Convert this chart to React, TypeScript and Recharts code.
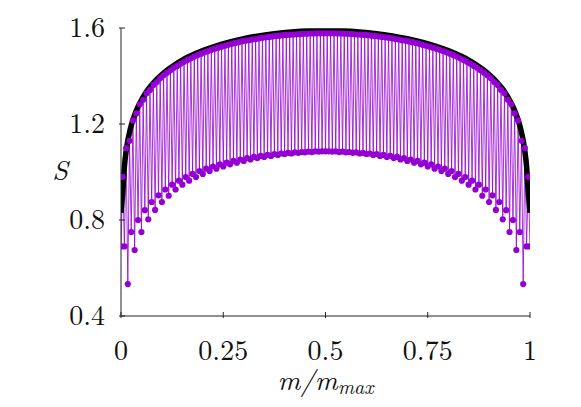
import React from 'react';
import { LineChart, Line, XAxis, YAxis } from 'recharts';

// m runs 0..M_MAX; x = m / M_MAX
const M_MAX = 240;
const xTicks = [0, 0.25, 0.5, 0.75, 1];
const yTicks = [0.4, 0.8, 1.2, 1.6];

// S at odd m (1,3,...,239) — upper branch
const upperS = [
  0.98, 1.10, 1.13, 1.215, 1.244, 1.282, 1.301, 1.328, 1.342, 1.363,
  1.375, 1.391, 1.403, 1.414, 1.424, 1.434, 1.442, 1.451, 1.459, 1.467,
  1.474, 1.481, 1.487, 1.493, 1.499, 1.504, 1.509, 1.514, 1.518, 1.522,
  1.526, 1.530, 1.534, 1.538, 1.541, 1.544, 1.547, 1.549, 1.552, 1.554,
  1.557, 1.559, 1.561, 1.563, 1.565, 1.567, 1.568, 1.570, 1.571, 1.572,
  1.573, 1.574, 1.575, 1.576, 1.576, 1.577, 1.577, 1.578, 1.578, 1.578,
  1.578, 1.578, 1.578, 1.577, 1.577, 1.576, 1.576, 1.575, 1.574, 1.573,
  1.572, 1.571, 1.570, 1.568, 1.567, 1.565, 1.563, 1.561, 1.559, 1.557,
  1.554, 1.552, 1.549, 1.547, 1.544, 1.541, 1.538, 1.534, 1.530, 1.526,
  1.522, 1.518, 1.514, 1.509, 1.504, 1.499, 1.493, 1.487, 1.481, 1.474,
  1.467, 1.459, 1.451, 1.442, 1.434, 1.424, 1.414, 1.403, 1.391, 1.375,
  1.363, 1.342, 1.328, 1.301, 1.282, 1.244, 1.215, 1.13, 1.10, 0.98,
];

// S at even m (0,2,...,240) — lower branch
const lowerS = [
  0.69, 0.69, 0.533, 0.75, 0.675, 0.80, 0.75, 0.841, 0.803, 0.875,
  0.842, 0.903, 0.875, 0.927, 0.901, 0.947, 0.927, 0.964, 0.947, 0.979,
  0.964, 0.992, 0.979, 1.004, 0.992, 1.014, 1.004, 1.023, 1.014, 1.032,
  1.023, 1.039, 1.032, 1.046, 1.039, 1.052, 1.046, 1.058, 1.052, 1.063,
  1.058, 1.067, 1.063, 1.071, 1.067, 1.075, 1.071, 1.077, 1.075, 1.080,
  1.077, 1.082, 1.080, 1.083, 1.082, 1.085, 1.083, 1.086, 1.085, 1.086,
  1.086,
  1.086, 1.085, 1.086, 1.083, 1.085, 1.082, 1.083, 1.080, 1.082, 1.077,
  1.080, 1.075, 1.077, 1.071, 1.075, 1.067, 1.071, 1.063, 1.067, 1.058,
  1.063, 1.052, 1.058, 1.046, 1.052, 1.039, 1.046, 1.032, 1.039, 1.023,
  1.032, 1.014, 1.023, 1.004, 1.014, 0.992, 1.004, 0.979, 0.992, 0.964,
  0.979, 0.947, 0.964, 0.927, 0.947, 0.901, 0.927, 0.875, 0.903, 0.842,
  0.875, 0.803, 0.841, 0.75, 0.80, 0.675, 0.75, 0.533, 0.69, 0.69,
];

// black envelope curve
const blackM = [
  0, 1, 2, 3, 4, 5, 6, 8, 10, 12, 14, 16, 20, 24, 28, 32, 36, 40, 48, 56, 64, 72, 80, 90, 100, 110, 120,
  130, 140, 150, 160, 168, 176, 184, 192, 200, 204, 208, 212, 216, 220, 224, 226, 228, 230, 232, 234, 235,
  236, 237, 238, 239, 240,
];
const blackS = [
  0.83, 0.916, 1.023, 1.086, 1.131, 1.165, 1.194, 1.238, 1.272, 1.300, 1.324, 1.345, 1.379, 1.406, 1.429,
  1.449, 1.466, 1.481, 1.506, 1.526, 1.542, 1.555, 1.566, 1.576, 1.583, 1.587, 1.588,
  1.587, 1.583, 1.576, 1.566, 1.555, 1.542, 1.526, 1.506, 1.481, 1.466, 1.449, 1.429, 1.406, 1.379, 1.345,
  1.324, 1.300, 1.272, 1.238, 1.194, 1.165, 1.131, 1.086, 1.023, 0.916, 0.83,
];

const stepData = Array.from({ length: M_MAX + 1 }, (_, m) => ({
  x: m / M_MAX,
  s: m % 2 === 0 ? lowerS[m / 2] : upperS[(m - 1) / 2],
}));
const envelopeData = blackM.map((m, i) => ({ x: m / M_MAX, s: blackS[i] }));

const FONT = "'Latin Modern Roman','CMU Serif','Liberation Serif',serif";
const PURPLE = '#9400d3';
const FRAME = '#222';

const fmtX = (v: number) => String(v);
const fmtY = (v: number) => v.toFixed(1);

const BottomTick = (p: any) => (
  <g>
    <line x1={p.x} y1={p.y} x2={p.x} y2={p.y - 6} stroke={FRAME} strokeWidth={1} />
    <text x={p.x} y={p.y + 42} textAnchor="middle" fontSize={28} fontFamily={FONT} fill="#111">
      {fmtX(p.payload.value)}
    </text>
  </g>
);
const TopTick = (p: any) => (
  <line x1={p.x} y1={p.y} x2={p.x} y2={p.y + 6} stroke={FRAME} strokeWidth={1} />
);
const LeftTick = (p: any) => (
  <g>
    <line x1={p.x} y1={p.y} x2={p.x + 6} y2={p.y} stroke={FRAME} strokeWidth={1} />
    <text x={p.x - 14} y={p.y + 9} textAnchor="end" fontSize={28} fontFamily={FONT} fill="#111">
      {fmtY(p.payload.value)}
    </text>
  </g>
);
const RightTick = (p: any) => (
  <line x1={p.x} y1={p.y} x2={p.x - 6} y2={p.y} stroke={FRAME} strokeWidth={1} />
);

const XLabel = (props: any) => {
  const vb = props.viewBox;
  return (
    <text x={vb.x + vb.width / 2} y={vb.y + 74} textAnchor="middle" fontSize={28} fontFamily={FONT} fontStyle="italic" fill="#111">
      m/m<tspan fontSize={20} dy={4}>max</tspan>
    </text>
  );
};
const YLabel = (props: any) => {
  const vb = props.viewBox;
  return (
    <text x={vb.x + 52} y={vb.y + vb.height / 2 + 8} textAnchor="middle" fontSize={28} fontFamily={FONT} fontStyle="italic" fill="#111">
      S
    </text>
  );
};

export default function App() {
  return (
    <LineChart width={565} height={391} margin={{ top: 20, right: 43, left: 0, bottom: 0 }}>
      <XAxis
        xAxisId="b"
        type="number"
        dataKey="x"
        domain={[0, 1]}
        ticks={xTicks}
        allowDataOverflow
        height={83}
        tickSize={0}
        tickLine={false}
        axisLine={{ stroke: FRAME, strokeWidth: 1 }}
        tick={<BottomTick />}
        label={{ content: XLabel }}
      />
      <XAxis
        xAxisId="t"
        orientation="top"
        type="number"
        domain={[0, 1]}
        ticks={xTicks}
        allowDataOverflow
        height={0}
        tickSize={0}
        tickLine={false}
        axisLine={{ stroke: FRAME, strokeWidth: 1 }}
        tick={<TopTick />}
      />
      <YAxis
        yAxisId="l"
        type="number"
        domain={[0.4, 1.6]}
        ticks={yTicks}
        allowDataOverflow
        width={113}
        tickSize={0}
        tickLine={false}
        axisLine={{ stroke: FRAME, strokeWidth: 1 }}
        tick={<LeftTick />}
        label={{ content: YLabel }}
      />
      <YAxis
        yAxisId="r"
        orientation="right"
        type="number"
        domain={[0.4, 1.6]}
        ticks={yTicks}
        allowDataOverflow
        width={0}
        tickSize={0}
        tickLine={false}
        axisLine={{ stroke: '#555', strokeWidth: 1 }}
        tick={<RightTick />}
      />
      <Line
        xAxisId="b"
        yAxisId="l"
        data={stepData}
        dataKey="s"
        type="linear"
        stroke={PURPLE}
        strokeWidth={1}
        strokeOpacity={0.8}
        dot={{ r: 3.1, fill: PURPLE, stroke: 'none', strokeWidth: 0, fillOpacity: 1 }}
        isAnimationActive={false}
      />
      <Line
        xAxisId="b"
        yAxisId="l"
        data={envelopeData}
        dataKey="s"
        type="monotone"
        stroke="#000"
        strokeWidth={5.5}
        dot={false}
        isAnimationActive={false}
      />
    </LineChart>
  );
}
